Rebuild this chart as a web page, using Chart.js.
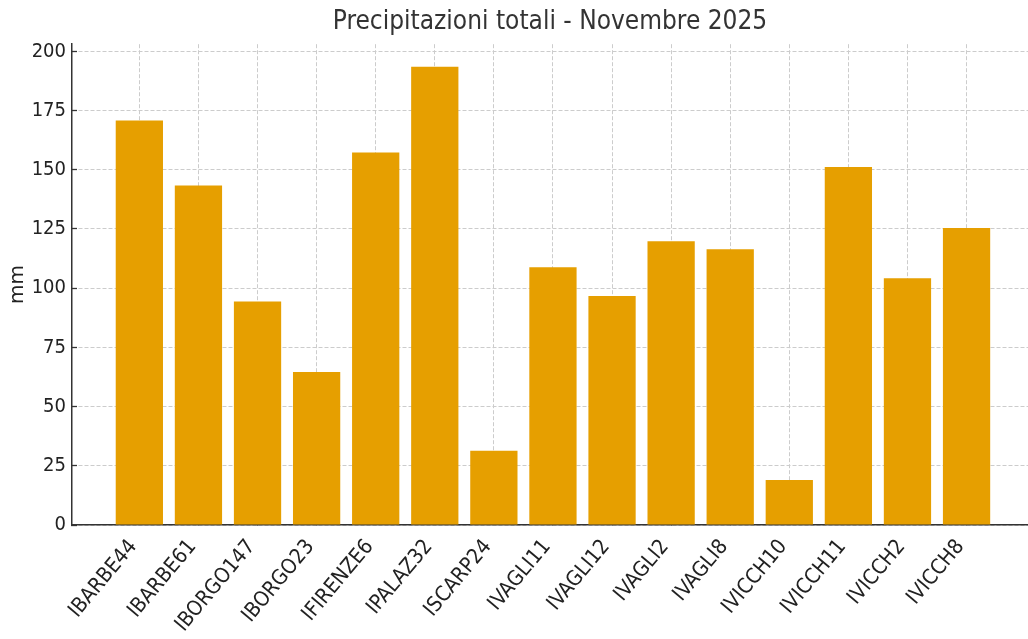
<!DOCTYPE html>
<html>
<head>
<meta charset="utf-8">
<script src="https://cdn.jsdelivr.net/npm/chart.js@4"></script>
<style>
	html, body { margin: 0; padding: 0; background: #fff; }
	#wrap { width: 1028px; height: 639px; }
</style>
</head>
<body>
<div id="wrap"><canvas id="chart" width="1028" height="639"></canvas></div>
<script>
// Stazioni e precipitazioni totali (mm) - novembre 2025
const stations = ['IBARBE44', 'IBARBE61', 'IBORGO147', 'IBORGO23', 'IFIRENZE6', 'IPALAZ32', 'ISCARP24', 'IVAGLI11', 'IVAGLI12', 'IVAGLI2', 'IVAGLI8', 'IVICCH10', 'IVICCH11', 'IVICCH2', 'IVICCH8']
const rain_mm = [170.8, 143.3, 94.4, 64.6, 157.3, 193.5, 31.3, 108.8, 96.7, 119.8, 116.4, 19.0, 151.1, 104.2, 125.4]
const y_ticks = [0, 25, 50, 75, 100, 125, 150, 175, 200]

const chart_title = 'Precipitazioni totali - Novembre 2025'
const y_title = 'mm'

const font_family = '"DejaVu Sans Condensed", "DejaVu Sans", sans-serif'
const axis_color = '#333333'
const grid_color = '#cccccc'

const points = stations.map((s, i) => ({ x: i, y: rain_mm[i] }))

new Chart(document.getElementById('chart'), {
	type: 'bar',
	data: {
		datasets: [{
			data: points,
			backgroundColor: '#E69F00',
			borderWidth: 0,
			barPercentage: 0.8,
			categoryPercentage: 1.0
		}]
	},
	options: {
		responsive: false,
		animation: false,
		layout: { padding: 0 },
		plugins: {
			legend: { display: false },
			tooltip: { enabled: false },
			title: {
				display: true,
				text: chart_title,
				fullSize: false,
				color: '#333333',
				font: { family: font_family, size: 26, weight: 'normal' },
				padding: { top: 7, bottom: 6 }
			}
		},
		scales: {
			x: {
				type: 'linear',
				min: -1.14,
				max: 15.04,
				offset: false,
				z: 1,
				afterBuildTicks: (scale) => {
					scale.ticks = stations.map((s, i) => ({ value: i }))
				},
				afterFit: (scale) => { scale.height = 114 },
				ticks: {
					autoSkip: false,
					minRotation: 50,
					maxRotation: 50,
					padding: 15,
					labelOffset: -6,
					color: '#222222',
					font: { family: font_family, size: 21 },
					callback: (value) => stations[value]
				},
				grid: {
					offset: false,
					color: grid_color,
					lineWidth: 1,
					tickLength: -5,
					tickColor: axis_color,
					tickWidth: 1.3,
					tickBorderDash: []
				},
				border: { display: true, color: axis_color, width: 1.5, dash: [4, 2] }
			},
			y: {
				min: 0,
				max: 203,
				z: 1,
				afterBuildTicks: (scale) => {
					scale.ticks = y_ticks.map((v) => ({ value: v }))
				},
				afterFit: (scale) => { scale.width = 72 },
				title: {
					display: true,
					text: y_title,
					color: '#222222',
					font: { family: '"DejaVu Sans", sans-serif', size: 20 },
					padding: { top: 6, bottom: 0 }
				},
				ticks: {
					padding: 11,
					color: '#222222',
					font: { family: font_family, size: 20 }
				},
				grid: {
					color: grid_color,
					lineWidth: 1,
					tickLength: -5,
					tickColor: axis_color,
					tickWidth: 1.3,
					tickBorderDash: []
				},
				border: { display: true, color: axis_color, width: 1.5, dash: [4, 2] }
			}
		}
	}
})
</script>
</body>
</html>
